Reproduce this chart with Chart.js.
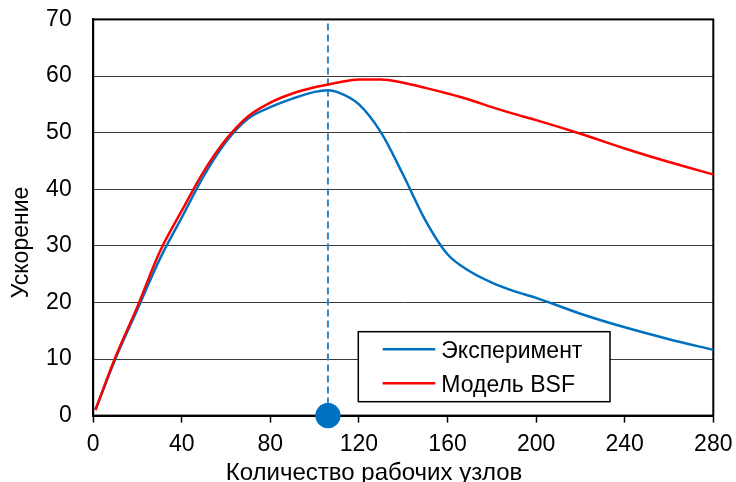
<!DOCTYPE html>
<html lang="ru">
<head>
<meta charset="utf-8">
<title>Ускорение</title>
<script src="https://cdn.jsdelivr.net/npm/chart.js@4.4.1/dist/chart.umd.min.js"></script>
<style>
  html, body { margin: 0; padding: 0; background: #fff; }
  #wrap { width: 736px; height: 482px; }
</style>
</head>
<body>
<div id="wrap"><canvas id="grafico" width="736" height="482"></canvas></div>
<script>
// Данные графика
const nodes = [1, 10, 20, 30, 40, 50, 60, 70, 80, 90, 100, 106, 110, 120, 130, 140, 150, 160, 170, 180, 190, 200, 220, 240, 260, 280];
const experiment = [1, 10, 18.8, 27.6, 35, 42.4, 48.4, 52.5, 54.5, 56, 57.2, 57.5, 57.2, 55, 50, 42.5, 34.5, 28.5, 25.5, 23.5, 22, 20.8, 18, 15.6, 13.5, 11.6];
const modelBsf = [1, 10.3, 19.3, 28.9, 36.2, 43.2, 48.8, 52.9, 55.3, 56.9, 58, 58.5, 58.8, 59.4, 59.4, 58.8, 57.9, 56.9, 55.8, 54.5, 53.3, 52.2, 49.8, 47.2, 44.8, 42.6];
const peakNode = [106];
const peakRange = [0, 70];
const xTicks = [0, 40, 80, 120, 160, 200, 240, 280];
const yTicks = [0, 10, 20, 30, 40, 50, 60, 70];
const seriesNames = ['Эксперимент', 'Модель BSF'];
const xTitle = 'Количество рабочих узлов';
const yTitle = 'Ускорение';

const BLUE = '#0070C0';
const RED = '#FF0000';
const FONT = '"Liberation Sans", Arial, sans-serif';

function toPoints(xs, ys) {
  return xs.map(function (x, i) { return { x: x, y: ys[i] }; });
}

// Рамка, подписи осей и легенда
const extrasPlugin = {
  id: 'extras',
  beforeDatasetsDraw(chart) {
    const ctx = chart.ctx;
    const a = chart.chartArea;
    ctx.save();
    ctx.strokeStyle = '#000';
    ctx.lineWidth = 2;
    ctx.strokeRect(a.left, a.top, a.right - a.left, a.bottom - a.top);
    ctx.restore();
  },
  afterDraw(chart) {
    const ctx = chart.ctx;
    ctx.save();
    ctx.fillStyle = '#000';

    // подпись оси X
    ctx.font = '24px ' + FONT;
    ctx.textAlign = 'center';
    ctx.textBaseline = 'alphabetic';
    ctx.fillText(xTitle, 374, 480);

    // подпись оси Y
    ctx.font = '23px ' + FONT;
    ctx.save();
    ctx.translate(28, 242.5);
    ctx.rotate(-Math.PI / 2);
    ctx.fillText(yTitle, 0, 0);
    ctx.restore();

    // легенда
    const lx = 358.3, ly = 331.7, lw = 251.7, lh = 70;
    ctx.fillStyle = '#fff';
    ctx.fillRect(lx, ly, lw, lh);
    ctx.strokeStyle = '#000';
    ctx.lineWidth = 1.5;
    ctx.strokeRect(lx, ly, lw, lh);
    const colors = [BLUE, RED];
    const rows = [349.3, 383.3];
    ctx.font = '23px ' + FONT;
    ctx.textAlign = 'left';
    ctx.textBaseline = 'alphabetic';
    for (let i = 0; i < seriesNames.length; i++) {
      const y = rows[i];
      ctx.strokeStyle = colors[i];
      ctx.lineWidth = 2.5;
      ctx.beginPath();
      ctx.moveTo(lx + 24.4, y);
      ctx.lineTo(lx + 77, y);
      ctx.stroke();
      ctx.fillStyle = '#000';
      ctx.fillText(seriesNames[i], lx + 83, y + 8.5);
    }
    ctx.restore();
  }
};

const ctx = document.getElementById('grafico').getContext('2d');

new Chart(ctx, {
  type: 'line',
  data: {
    datasets: [
      {
        label: 'peak-dot',
        type: 'scatter',
        data: [{ x: peakNode[0], y: peakRange[0] }],
        backgroundColor: BLUE,
        borderColor: BLUE,
        pointRadius: 12.3,
        clip: false,
        order: 0
      },
      {
        label: seriesNames[1],
        data: toPoints(nodes, modelBsf),
        borderColor: RED,
        borderWidth: 2.5,
        pointRadius: 0,
        cubicInterpolationMode: 'monotone',
        fill: false,
        order: 1
      },
      {
        label: seriesNames[0],
        data: toPoints(nodes, experiment),
        borderColor: BLUE,
        borderWidth: 2.5,
        pointRadius: 0,
        cubicInterpolationMode: 'monotone',
        fill: false,
        order: 2
      },
      {
        label: 'peak-line',
        data: [{ x: peakNode[0], y: peakRange[0] }, { x: peakNode[0], y: peakRange[1] }],
        borderColor: '#2E86D0',
        borderWidth: 2,
        borderDash: [7, 4],
        pointRadius: 0,
        tension: 0,
        order: 3
      }
    ]
  },
  options: {
    responsive: false,
    animation: false,
    devicePixelRatio: 1,
    layout: { padding: { left: 0, right: 22.7, top: 19.4, bottom: 0 } },
    plugins: {
      legend: { display: false },
      tooltip: { enabled: false }
    },
    scales: {
      x: {
        type: 'linear',
        min: 0,
        max: 280,
        afterBuildTicks: function (scale) {
          scale.ticks = xTicks.map(function (v) { return { value: v }; });
        },
        afterFit: function (scale) { scale.height = 66.4; },
        grid: {
          drawOnChartArea: false,
          drawTicks: true,
          tickLength: 7,
          tickColor: '#000',
          tickWidth: 1.5
        },
        border: { color: '#000', width: 2 },
        ticks: {
          color: '#000',
          padding: 3,
          maxRotation: 0,
          font: { size: 23, family: FONT, lineHeight: 1.64 }
        }
      },
      y: {
        min: 0,
        max: 70,
        afterBuildTicks: function (scale) {
          scale.ticks = yTicks.map(function (v) { return { value: v }; });
        },
        afterFit: function (scale) { scale.width = 93.2; },
        grid: {
          color: '#3a3a3a',
          lineWidth: 1,
          drawTicks: true,
          tickLength: 21.5,
          tickColor: 'rgba(0,0,0,0)'
        },
        border: { color: '#000', width: 2 },
        ticks: {
          color: '#000',
          padding: 0,
          font: { size: 23, family: FONT }
        }
      }
    }
  },
  plugins: [extrasPlugin]
});
</script>
</body>
</html>
